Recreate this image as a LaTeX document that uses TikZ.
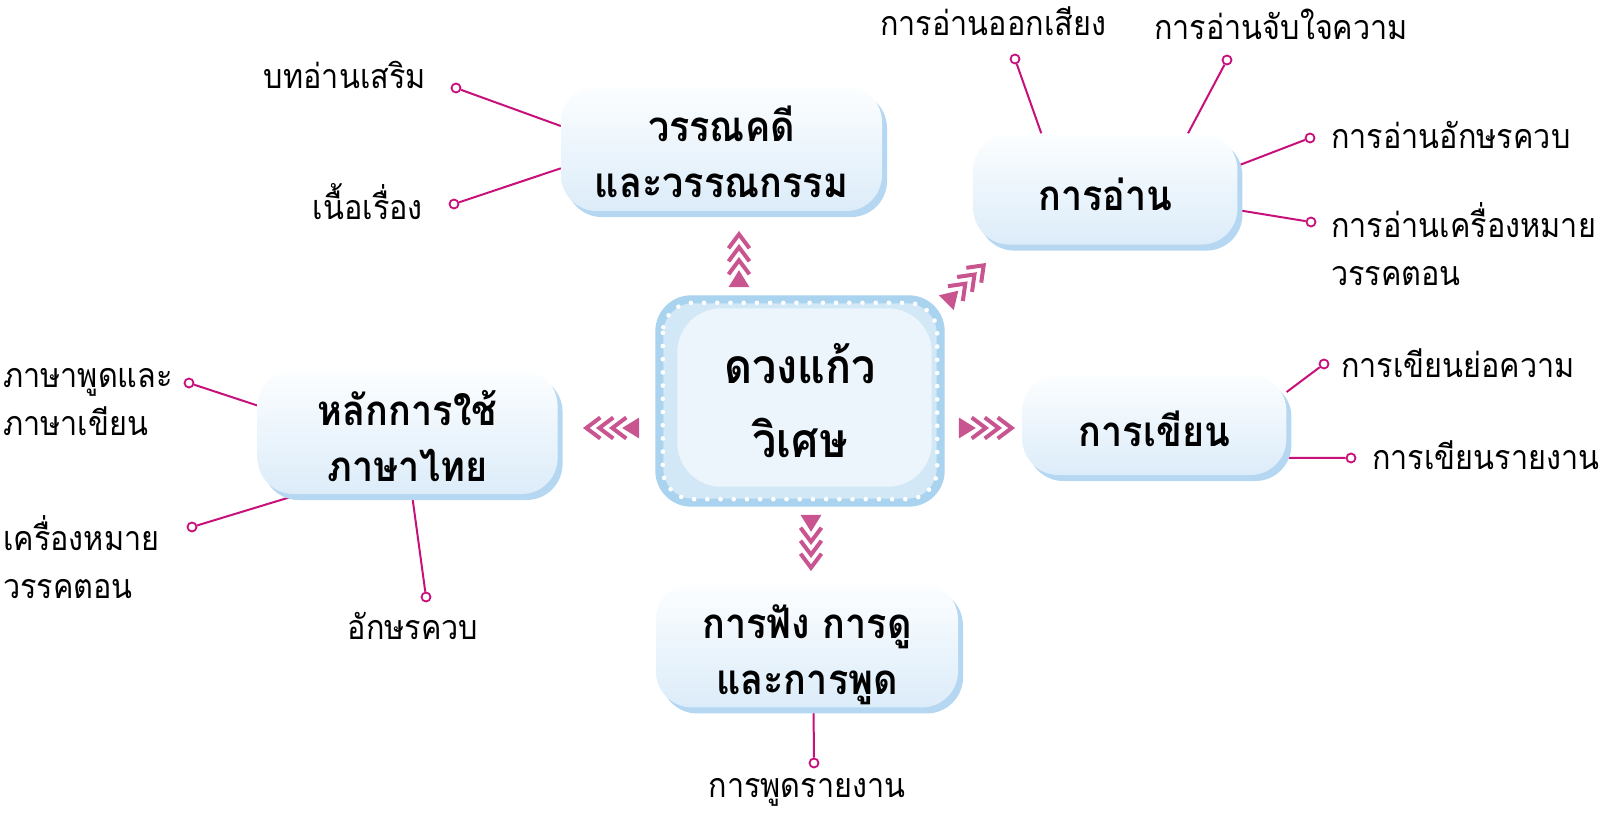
\documentclass[tikz,border=0pt]{standalone}
\usepackage{fontspec}
\newfontfamily\thaifont[Script=Thai, FakeStretch=0.9]{Loma}
\usetikzlibrary{positioning, shadows, backgrounds, decorations.markings}

\definecolor{boxtop}{HTML}{FCFEFF}
\definecolor{boxbot}{HTML}{DCECF9}
\definecolor{boxshade}{HTML}{B5D7F1}
\definecolor{hubring}{HTML}{A9D3EF}
\definecolor{hubmid}{HTML}{D2E8F6}
\definecolor{hubcore}{HTML}{ECF5FC}
\definecolor{leafline}{HTML}{C8107B}
\definecolor{chevpink}{HTML}{C95590}

\begin{document}
\begin{tikzpicture}[x=1pt, y=-1pt,
    hubtext/.style={rectangle, minimum width=289pt, minimum height=211pt, inner sep=0pt, align=center, font=\thaifont\bfseries\fontsize{48}{74}\selectfont},
    topic/.style={rectangle, rounded corners=36pt, top color=boxtop, bottom color=boxbot, drop shadow={shadow xshift=5pt, shadow yshift=-6pt, fill=boxshade, opacity=1}, inner sep=0pt, align=center, font=\thaifont\bfseries\fontsize{42}{56}\selectfont,
        text height=42pt, text depth=0pt},
    tall/.style={text height=98pt},
    leaf/.style={inner sep=0pt, align=left, font=\thaifont\fontsize{34}{48}\selectfont},
    knob/.style={circle, draw=leafline, fill=white, line width=1.8pt, minimum size=9pt, inner sep=0pt},
    twig/.style={draw=leafline, line width=2pt},
    chevs/.style={decoration={markings,
        mark=at position 0.1pt with {\fill[chevpink] (0pt,-10.5pt) -- (17pt,0pt) -- (0pt,10.5pt) -- cycle;},
        mark=at position 13pt with {\draw[chevpink, line width=4pt] (0pt,-10.5pt) -- (14pt,0pt) -- (0pt,10.5pt);},
        mark=at position 26pt with {\draw[chevpink, line width=4pt] (0pt,-10.5pt) -- (14pt,0pt) -- (0pt,10.5pt);},
        mark=at position 39pt with {\draw[chevpink, line width=4pt] (0pt,-10.5pt) -- (14pt,0pt) -- (0pt,10.5pt);}},
        postaction={decorate}}
]
\useasboundingbox (0,0) rectangle (1599,816);

% centre
\node[hubtext] (hub) at (800,401) {ดวงแก้ว\\วิเศษ};
\begin{scope}[on background layer]
    \fill[hubring, rounded corners=36pt] (hub.north west) rectangle (hub.south east);
    \fill[hubmid, rounded corners=30pt] ([shift={(8pt,-8pt)}]hub.north west) rectangle ([shift={(-8pt,8pt)}]hub.south east);
    \draw[white, line width=4.6pt, line cap=round, dash pattern=on 0pt off 13.2pt, rounded corners=30pt] ([shift={(7.5pt,-7.5pt)}]hub.north west) rectangle ([shift={(-7.5pt,7.5pt)}]hub.south east);
    \fill[hubcore, rounded corners=44pt] ([shift={(22pt,-13pt)}]hub.north west) rectangle ([shift={(-13pt,20pt)}]hub.south east);
\end{scope}

% topics
\node[topic, tall, minimum width=321pt, minimum height=125pt, above=84pt of hub, xshift=-78.5pt] (lit) {วรรณคดี\\และวรรณกรรม};
\node[topic, minimum width=264pt, minimum height=111pt, above right=50.5pt and 28.5pt of hub] (read) {การอ่าน};
\node[topic, minimum width=264pt, minimum height=100pt, right=77.5pt of hub, yshift=-24pt] (write) {การเขียน};
\node[topic, tall, minimum width=300pt, minimum height=124pt, left=97.5pt of hub, yshift=-31pt] (lang) {หลักการใช้\\ภาษาไทย};
\node[topic, tall, minimum width=302pt, minimum height=124pt, below=76.5pt of hub, xshift=7pt] (listen) {การฟัง การดู\\และการพูด};

% arrows
\path[chevs] ([xshift=-61pt,yshift=8pt]hub.north) -- ([xshift=-61pt]hub.north |- lit.south);
\path[chevs] ([shift={(1.5pt,-7.5pt)}]hub.north east) -- ([shift={(33pt,2pt)}]read.south west);
\path[chevs] ([xshift=-16pt,yshift=-27pt]hub.west) -- ([yshift=-27pt]hub.west -| lang.east);
\path[chevs] ([xshift=14pt,yshift=-27pt]hub.east) -- ([yshift=-27pt]hub.east -| write.west);
\path[chevs] ([xshift=11pt,yshift=-8pt]hub.south) -- ([xshift=11pt]hub.south |- listen.north);

% leaves
\node[knob] (k1) at (456,88) {};
\node[knob] (k2) at (454,204) {};
\node[knob] (k3) at (1015,59) {};
\node[knob] (k4) at (1227,60) {};
\node[knob] (k5) at (1310,138) {};
\node[knob] (k6) at (1311,222) {};
\node[knob] (k7) at (1324,364) {};
\node[knob] (k8) at (1351,458) {};
\node[knob] (k9) at (189,383) {};
\node[knob] (k10) at (192,527) {};
\node[knob] (k11) at (426,597) {};
\node[knob] (k12) at (814,763) {};

\node[leaf, anchor=east] (l1) at (426,75) {บทอ่านเสริม};
\node[leaf, anchor=east] (l2) at (423,202) {เนื้อเรื่อง};
\node[leaf] (l3) at (993,21) {การอ่านออกเสียง};
\node[leaf] (l4) at (1281,24) {การอ่านจับใจความ};
\node[leaf, anchor=west] (l5) at (1331,135) {การอ่านอักษรควบ};
\node[leaf, anchor=west] (l6) at (1331,244) {การอ่านเครื่องหมาย\\วรรคตอน};
\node[leaf, anchor=west] (l7) at (1341,363) {การเขียนย่อความ};
\node[leaf, anchor=west] (l8) at (1372,455) {การเขียนรายงาน};
\node[leaf, anchor=west] (l9) at (3,402) {ภาษาพูดและ\\ภาษาเขียน};
\node[leaf, anchor=west] (l10) at (3,557) {เครื่องหมาย\\วรรคตอน};
\node[leaf] (l11) at (413,626) {อักษรควบ};
\node[leaf] (l12) at (807,792) {การพูดรายงาน};

\begin{scope}[on background layer]
    \draw[twig] (k1) -- (lit.172);
    \draw[twig] (k2) -- (lit.187);
    \draw[twig] (k3) -- (read.139);
    \draw[twig] (k4) -- (read.34);
    \draw[twig] (k5) -- (read.10);
    \draw[twig] (k6) -- (read.351);
    \draw[twig] (k7) -- (write.14);
    \draw[twig] (k8) -- (write.346);
    \draw[twig] (k9) -- (lang.170);
    \draw[twig] (k10) -- (lang.210);
    \draw[twig] (k11) -- (lang.274);
    \draw[twig] (k12) -- (listen.276);
\end{scope}
\end{tikzpicture}
\end{document}
